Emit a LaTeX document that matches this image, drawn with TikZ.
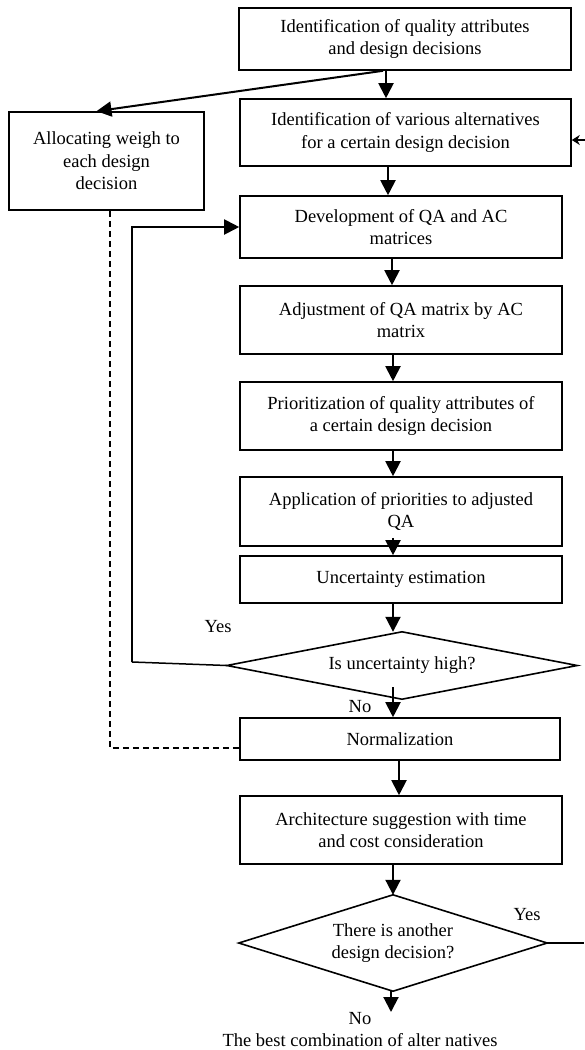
\documentclass[tikz,border=0pt]{standalone}
\usepackage{fontspec}
\setmainfont{Liberation Serif}
\usetikzlibrary{arrows.meta}
\begin{document}
\begin{tikzpicture}[x=1pt,y=-1pt,
  txt/.style={font=\fontsize{18.5}{22.5}\selectfont},
  box/.style={txt,draw,line width=1.6pt,inner sep=0pt,align=center},
  dia/.style={txt,inner sep=0pt,align=center},
  lbl/.style={txt,inner sep=0pt},
  arr/.style={line width=2pt,-{Triangle[width=15pt,length=15pt]}},
  smallarr/.style={line width=1.6pt,-{Stealth[width=10pt,length=8pt]}},
  thin/.style={line width=1.5pt},
]
\fill[white] (0,0) rectangle (584,1050);
\useasboundingbox (0,0) rectangle (584,1050);

% boxes
\node[box,minimum width=332pt,minimum height=62pt] (b1) at (405,39)
  {Identification of quality attributes\\and design decisions};
\node[box,minimum width=331pt,minimum height=67pt] (b2) at (405.5,132.5)
  {Identification of various alternatives\\for a certain design decision};
\node[box,minimum width=195pt,minimum height=98pt] (lb) at (106.5,161)
  {Allocating weigh to\\each design\\decision};
\node[box,minimum width=322pt,minimum height=62pt] (b3) at (401,227)
  {Development of QA and AC\\matrices};
\node[box,minimum width=322pt,minimum height=68pt] (b4) at (401,320)
  {Adjustment of QA matrix by AC\\matrix};
\node[box,minimum width=322pt,minimum height=68pt] (b5) at (401,416)
  {Prioritization of quality attributes of\\a certain design decision};
\node[box,minimum width=322pt,minimum height=69pt] (b6) at (401,511.5)
  {Application of priorities to adjusted\\QA};
\node[box,minimum width=322pt,minimum height=47pt] (b7) at (401,579.5)
  {Uncertainty estimation};
\node[box,minimum width=320pt,minimum height=42pt] (nm) at (400,739)
  {Normalization};
\node[box,minimum width=322pt,minimum height=68pt] (ar) at (401,830)
  {Architecture suggestion with time\\and cost consideration};

% decisions
\node[dia,minimum width=350pt,minimum height=67pt] (d1) at (402,665.5)
  {Is uncertainty high?};
\draw[line width=1.6pt,line join=miter] (d1.west) -- (d1.north) -- (d1.east) -- (d1.south) -- cycle;
\node[dia,minimum width=308pt,minimum height=96pt] (d2) at (393,943)
  {There is another\\design decision?};
\draw[line width=1.6pt,line join=miter] (d2.west) -- (d2.north) -- (d2.east) -- (d2.south) -- cycle;

% labels
\node[lbl] (yes1) at (218,627) {Yes};
\node[lbl] (no1) at (360,707) {No};
\node[lbl] (yes2) at (527,915) {Yes};
\node[lbl] (no2) at (360,1019) {No};
\node[lbl] (res) at (360,1040) {The best combination of alter natives};

% helper coordinates
\coordinate (xa) at (386,0);
\coordinate (xb) at (388,0);
\coordinate (xc) at (392,0);
\coordinate (xd) at (393,0);
\coordinate (xe) at (399,0);
\coordinate (xf) at (391,0);
\coordinate (rin) at (586,140);
\coordinate (rout) at (584,943);
\coordinate (loopc) at (132,662);
\coordinate (endp) at (391,1012);

% connectors
\draw[arr] (b1.south -| xa) -- (b2.north -| xa);
\draw[arr] ([xshift=-22pt]b1.south) -- ([xshift=-10pt]lb.north);
\draw[smallarr] (rin) -- ([yshift=-7.5pt]b2.east);
\draw[arr] (b2.south -| xb) -- (b3.north -| xb);
\draw[arr] (b3.south -| xc) -- (b4.north -| xc);
\draw[arr] (b4.south -| xd) -- (b5.north -| xd);
\draw[arr] (b5.south -| xd) -- (b6.north -| xd);
\draw[arr] ([yshift=9pt]b6.south -| xd) -- (b7.north -| xd);
\draw[arr] (b7.south -| xd) -- (d1.north -| xd);
\draw[arr] ([yshift=12pt]d1.south -| xd) -- (nm.north -| xd);
\draw[arr] (nm.south -| xe) -- (ar.north -| xe);
\draw[arr] (ar.south -| xd) -- (d2.north -| xd);
\draw[arr] (d2.south -| xf) -- (endp);
\draw[thin] (d1.west) -- (loopc);
\draw[arr] (loopc) |- (b3.west);
\draw[thin,dashed,dash pattern=on 6pt off 4pt] ([xshift=3.5pt]lb.south) |- ([yshift=-9pt]nm.west);
\draw[thin] (d2.east) -- (rout);
\end{tikzpicture}
\end{document}
